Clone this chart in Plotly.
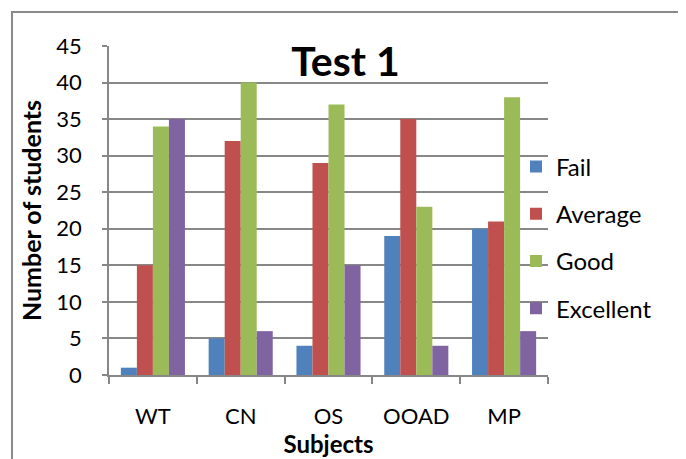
import plotly.graph_objects as go

subjects = ["WT", "CN", "OS", "OOAD", "MP"]
fail = [1, 5, 4, 19, 20]
average = [15, 32, 29, 35, 21]
good = [34, 40, 37, 23, 38]
excellent = [35, 6, 15, 4, 6]
series_names = ["Fail", "Average", "Good", "Excellent"]
colors = ["#4F81BD", "#C0504D", "#9BBB59", "#8064A2"]
y_ticks = list(range(0, 50, 5))

FONT = "Lato"
GRID = "#878787"

fig = go.Figure()
for name, vals, c in zip(series_names, [fail, average, good, excellent], colors):
    fig.add_trace(go.Bar(x=subjects, y=vals, name=name, marker_color=c,
                         marker_line_width=0, legendgroup=name))

# page body has an 8px default margin, so figure coords = image coords - 8
OFF = 8
L, R, T, B = 109 - OFF, 548 - OFF, 46 - OFF, 375 - OFF
W, H = 686 - OFF, 459 - OFF
pw, ph = R - L, B - T

fig.update_layout(
    width=W, height=H,
    margin=dict(l=L, r=W - R, t=T, b=H - B, pad=0, autoexpand=False),
    paper_bgcolor="white", plot_bgcolor="white",
    font=dict(family=FONT, color="black", size=21),
    barmode="group", bargap=0.27, bargroupgap=0,
    title=dict(text="<b>Test 1</b>", font=dict(family=FONT, size=41, color="black"),
               xref="container", x=(345.5 - OFF) / W, xanchor="center",
               yref="container", y=1 - (62 - OFF) / H, yanchor="middle"),
    xaxis=dict(showline=True, linecolor=GRID, linewidth=1.5, automargin=False,
               ticks="outside", tickson="boundaries", ticklen=7, tickcolor=GRID, tickwidth=1.5,
               tickfont=dict(size=22), ticklabelstandoff=21,
               title=dict(text="<b>Subjects</b>", font=dict(size=24), standoff=6)),
    yaxis=dict(range=[0, 45], tickvals=y_ticks, showgrid=True, gridcolor=GRID, gridwidth=1.5,
               showline=True, linecolor=GRID, linewidth=1.5, automargin=False,
               ticks="outside", ticklen=5, tickcolor=GRID, tickwidth=1.5,
               tickfont=dict(size=22), ticklabelstandoff=16, zeroline=False,
               title=dict(text="<b>Number of students</b>", font=dict(size=25), standoff=8)),
    legend=dict(x=(516 - OFF - L) / pw, xanchor="left", y=(B - (237.5 - OFF)) / ph, yanchor="middle",
                traceorder="grouped", tracegroupgap=13, font=dict(size=24),
                bgcolor="rgba(0,0,0,0)"),
    shapes=[dict(type="rect", xref="paper", yref="paper",
                 x0=(12 - OFF - L) / pw, x1=(680 - OFF - L) / pw,
                 y0=-0.4, y1=(B - (12 - OFF)) / ph,
                 line=dict(color="#8a8a8a", width=2), layer="below")],
)

fig.write_html("out.html")
